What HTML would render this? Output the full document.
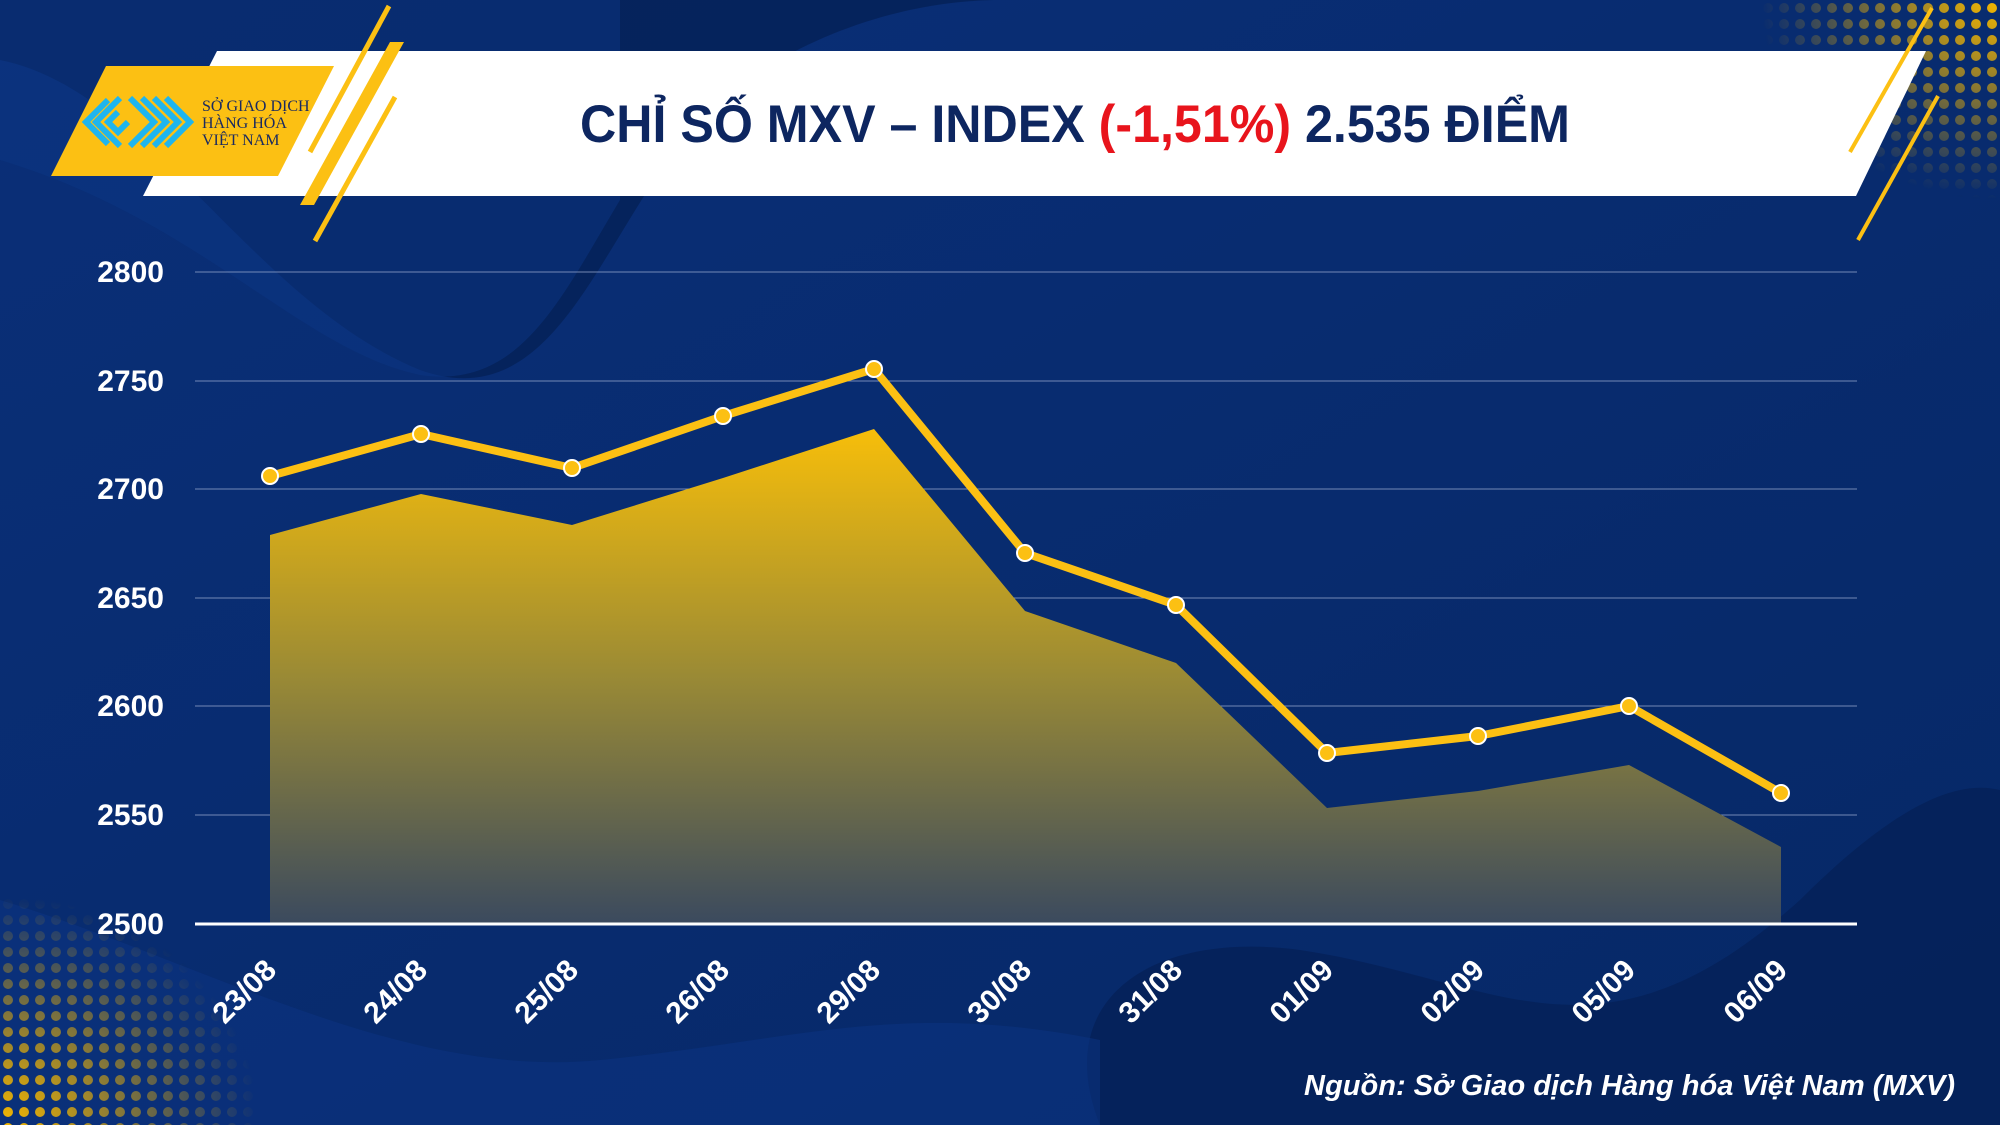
<!DOCTYPE html>
<html><head><meta charset="utf-8"><style>
html,body{margin:0;padding:0;background:#062463}
svg{display:block}
</style></head><body>
<svg width="2000" height="1125" viewBox="0 0 2000 1125" xmlns="http://www.w3.org/2000/svg">
<defs>
<linearGradient id="bg" x1="0" y1="0" x2="1" y2="1">
<stop offset="0" stop-color="#0a2f78"/><stop offset="1" stop-color="#062866"/></linearGradient>
<linearGradient id="area" x1="0" y1="0" x2="0" y2="1">
<stop offset="0" stop-color="#f7be0a"/><stop offset="0.5" stop-color="#9a8a35"/><stop offset="1" stop-color="#3b4a5e"/></linearGradient>
<radialGradient id="dots" cx="0" cy="1" r="1"><stop offset="0" stop-color="#fff"/><stop offset="1" stop-color="#fff" stop-opacity="0"/></radialGradient>
<pattern id="dp" width="16" height="16" patternUnits="userSpaceOnUse"><circle cx="8" cy="8" r="5" fill="#f5b800"/></pattern>
<mask id="dm"><rect width="260" height="230" x="0" y="895" fill="url(#dots)"/></mask>
<mask id="dm2"><rect width="240" height="200" x="1760" y="0" fill="url(#dots)" transform="rotate(180 1880 100)"/></mask>
</defs>
<rect width="2000" height="1125" fill="url(#bg)"/>
<path d="M0 60 C150 90 250 300 420 370 C560 420 600 230 700 120 C780 40 900 0 1000 0 L0 0Z" fill="#052056" opacity="0.8"/>
<path d="M0 160 C200 220 300 350 420 375 C520 390 560 300 620 200 L620 0 L0 0Z" fill="#0c3584" opacity="0.5"/>
<path d="M1100 1125 C1050 1000 1150 930 1300 950 C1500 980 1600 1080 1800 900 C1900 800 1960 780 2000 790 L2000 1125Z" fill="#052157" opacity="0.8"/>
<path d="M0 900 C200 960 400 1080 600 1060 C800 1040 900 1000 1100 1040 L1100 1125 L0 1125Z" fill="#0b3383" opacity="0.5"/>
<rect x="0" y="895" width="260" height="230" fill="url(#dp)" mask="url(#dm)"/>
<rect x="1760" y="0" width="240" height="200" fill="url(#dp)" mask="url(#dm2)"/>
<!-- banner -->
<polygon points="217,51 1926,51 1856,196 143,196" fill="#ffffff"/>
<polygon points="106,66 334,66 278,176 51,176" fill="#fcc013"/>
<line x1="389" y1="6" x2="310" y2="152" stroke="#fcc013" stroke-width="5"/>
<polygon points="390,42 404,42 314,205 300,205" fill="#fcc013"/>
<line x1="395" y1="97" x2="315" y2="241" stroke="#fcc013" stroke-width="5"/>
<line x1="1932" y1="8" x2="1850" y2="152" stroke="#fcc013" stroke-width="4"/>
<line x1="1938" y1="96" x2="1858" y2="240" stroke="#fcc013" stroke-width="4"/>
<g fill="none" stroke="#1fb5ee" stroke-width="6">
<polyline points="108,100 86,122 108,144"/><polyline points="120,98 96,122 120,146"/>
<polyline points="130,98 154,122 130,146"/><polyline points="142,98 166,122 142,146"/><polyline points="154,98 178,122 154,146"/><polyline points="166,98 190,122 166,146"/>
<polyline points="118,112 108,122 118,132 128,122"/>
</g>
<text x="202" y="111" font-family="Liberation Serif,serif" font-size="16" fill="#1a2a60">SỞ GIAO DỊCH</text>
<text x="202" y="128" font-family="Liberation Serif,serif" font-size="16" fill="#1a2a60">HÀNG HÓA</text>
<text x="202" y="145" font-family="Liberation Serif,serif" font-size="16" fill="#1a2a60">VIỆT NAM</text>
<text x="1075" y="142" text-anchor="middle" font-family="Liberation Sans,sans-serif" font-weight="bold" font-size="53" textLength="990" lengthAdjust="spacingAndGlyphs" fill="#0d2660">CHỈ SỐ MXV – INDEX <tspan fill="#e8141c">(-1,51%)</tspan> 2.535 ĐIỂM</text>
<!-- grid -->
<g stroke="#8ea0c8" stroke-width="1" opacity="0.8">
<line x1="195" y1="272" x2="1857" y2="272"/><line x1="195" y1="381" x2="1857" y2="381"/><line x1="195" y1="489" x2="1857" y2="489"/><line x1="195" y1="598" x2="1857" y2="598"/><line x1="195" y1="706" x2="1857" y2="706"/><line x1="195" y1="815" x2="1857" y2="815"/>
</g>
<g font-family="Liberation Sans,sans-serif" font-weight="bold" font-size="30" fill="#fff" text-anchor="end">
<text x="164" y="282">2800</text><text x="164" y="391">2750</text><text x="164" y="499">2700</text><text x="164" y="608">2650</text><text x="164" y="716">2600</text><text x="164" y="825">2550</text><text x="164" y="934">2500</text>
</g>
<polygon fill="url(#area)" points="270,923 270,535 421,494 572,525 723,478 874,429 1025,611 1176,663 1327,808 1478,791 1629,765 1781,847 1781,923"/>
<line x1="195" y1="924" x2="1857" y2="924" stroke="#fff" stroke-width="3"/>
<polyline fill="none" stroke="#fcc013" stroke-width="8" stroke-linejoin="round" points="270,476 421,434 572,468 723,416 874,369 1025,553 1176,605 1327,753 1478,736 1629,706 1781,793"/>
<g fill="#fcc013" stroke="#fff" stroke-width="2">
<circle cx="270" cy="476" r="8"/><circle cx="421" cy="434" r="8"/><circle cx="572" cy="468" r="8"/><circle cx="723" cy="416" r="8"/><circle cx="874" cy="369" r="8"/><circle cx="1025" cy="553" r="8"/><circle cx="1176" cy="605" r="8"/><circle cx="1327" cy="753" r="8"/><circle cx="1478" cy="736" r="8"/><circle cx="1629" cy="706" r="8"/><circle cx="1781" cy="793" r="8"/>
</g>
<g font-family="Liberation Sans,sans-serif" font-weight="bold" font-size="30" fill="#fff" text-anchor="end">
<text transform="translate(278,972) rotate(-45)">23/08</text>
<text transform="translate(429,972) rotate(-45)">24/08</text>
<text transform="translate(580,972) rotate(-45)">25/08</text>
<text transform="translate(731,972) rotate(-45)">26/08</text>
<text transform="translate(882,972) rotate(-45)">29/08</text>
<text transform="translate(1033,972) rotate(-45)">30/08</text>
<text transform="translate(1184,972) rotate(-45)">31/08</text>
<text transform="translate(1335,972) rotate(-45)">01/09</text>
<text transform="translate(1486,972) rotate(-45)">02/09</text>
<text transform="translate(1637,972) rotate(-45)">05/09</text>
<text transform="translate(1789,972) rotate(-45)">06/09</text>
</g>
<text x="1955" y="1095" text-anchor="end" font-family="Liberation Sans,sans-serif" font-weight="bold" font-style="italic" font-size="29" textLength="651" lengthAdjust="spacingAndGlyphs" fill="#fff">Nguồn: Sở Giao dịch Hàng hóa Việt Nam (MXV)</text>
</svg>
</body></html>
